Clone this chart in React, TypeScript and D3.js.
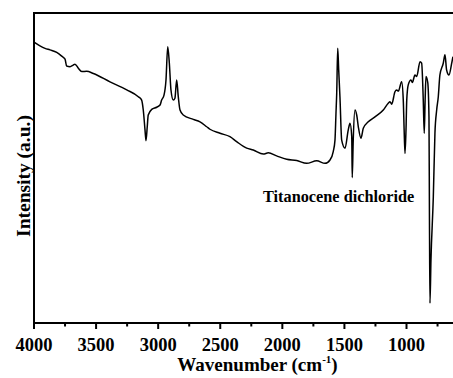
import React from "react";
import * as d3 from "d3";

// FTIR spectrum of titanocene dichloride: wavenumber (cm^-1) vs. intensity (a.u.)
const wavenumbers: number[] = [
  4000, 3952, 3911, 3871, 3817, 3777, 3750, 3737, 3710, 3684, 3670, 3643, 3616, 3576, 3522,
  3388, 3253, 3160, 3133, 3120, 3106, 3098, 3088, 3080, 3052, 3012, 2985, 2972, 2953, 2937,
  2923, 2910, 2897, 2878, 2865, 2851, 2838, 2824, 2798, 2717, 2663, 2609, 2583, 2502, 2422,
  2368, 2287, 2234, 2153, 2113, 2046, 1965, 1884, 1804, 1723, 1656, 1616, 1590, 1576, 1568,
  1562, 1554, 1546, 1536, 1522, 1495, 1469, 1455, 1441, 1437, 1429, 1415, 1401, 1388, 1367,
  1348, 1308, 1254, 1187, 1147, 1133, 1119, 1093, 1079, 1066, 1039, 1026, 1019, 1012, 1004,
  998, 986, 964, 953, 932, 918, 891, 878, 865, 857, 850, 843, 829, 819, 815, 811, 803, 784,
  771, 757, 744, 731, 704, 690, 677, 658, 636, 626,
];

const intensities: number[] = [
  90.6, 89.4, 88.6, 88.1, 87.3, 86.1, 85.1, 82.9, 82.7, 83.2, 83.5, 82.2, 81.1, 81.2, 80.5,
  77.8, 75.2, 73.0, 71.9, 68.7, 62.3, 58.8, 63.3, 67.1, 68.9, 69.6, 70.3, 71.9, 73.5, 78.4,
  89.1, 83.8, 75.2, 71.9, 72.5, 78.4, 73.0, 68.7, 67.1, 65.7, 64.9, 63.3, 62.5, 61.2, 60.1,
  58.5, 56.4, 55.8, 54.5, 54.9, 53.9, 52.8, 52.4, 51.5, 52.3, 51.5, 52.6, 55.3, 59.0, 67.6,
  74.1, 88.6, 81.6, 73.0, 59.0, 56.4, 62.3, 64.4, 60.1, 46.9, 59.0, 68.7, 67.1, 63.3, 59.6,
  62.8, 64.9, 66.5, 68.7, 70.9, 71.4, 70.6, 74.6, 75.2, 74.8, 77.8, 71.9, 62.3, 54.7, 62.3,
  71.9, 76.8, 78.4, 77.6, 80.0, 79.5, 84.3, 83.8, 71.9, 61.2, 71.9, 79.5, 77.6, 66.5, 33.2,
  6.4, 20.3, 40.7, 61.2, 68.7, 73.0, 80.0, 83.8, 86.5, 81.6, 80.0, 83.8, 85.9,
];

const majorTicks: number[] = [4000, 3500, 3000, 2500, 2000, 1500, 1000, 500];
const minorTicks: number[] = [3750, 3250, 2750, 2250, 1750, 1250, 750];
const tickLabels: number[] = [4000, 3500, 3000, 2500, 2000, 1500, 1000];

const sampleLabel = "Titanocene dichloride";

const W = 453;
const H = 378;
const margin = { left: 34, top: 13, bottom: 323, right: 481 };
const serif = "'Liberation Serif', 'Times New Roman', serif";

export default function App() {
  const x = d3.scaleLinear().domain([4000, 400]).range([margin.left, margin.right]);
  const y = d3.scaleLinear().domain([0, 100]).range([margin.bottom, margin.top]);

  const points: [number, number][] = wavenumbers.map((w, i) => [w, intensities[i]]);
  const line = d3
    .line<[number, number]>()
    .x((d) => x(d[0]))
    .y((d) => y(d[1]))
    .curve(d3.curveMonotoneX);

  const plotW = margin.right - margin.left;
  const plotH = margin.bottom - margin.top;

  return (
    <svg
      width={W}
      height={H}
      viewBox={`0 0 ${W} ${H}`}
      style={{ position: "absolute", left: 0, top: 0, background: "#fff" }}
    >
      <defs>
        <clipPath id="plot-area">
          <rect x={margin.left} y={margin.top} width={plotW} height={plotH} />
        </clipPath>
      </defs>

      <path
        d={line(points) ?? ""}
        fill="none"
        stroke="#000"
        strokeWidth={1.5}
        strokeLinejoin="round"
        clipPath="url(#plot-area)"
      />

      {/* frame */}
      <rect
        x={margin.left}
        y={margin.top}
        width={plotW}
        height={plotH}
        fill="none"
        stroke="#000"
        strokeWidth={2}
      />

      {/* bottom axis ticks */}
      {majorTicks.map((t) => (
        <line key={`M${t}`} x1={x(t)} x2={x(t)} y1={margin.bottom} y2={margin.bottom + 6} stroke="#000" strokeWidth={2} />
      ))}
      {minorTicks.map((t) => (
        <line key={`m${t}`} x1={x(t)} x2={x(t)} y1={margin.bottom} y2={margin.bottom + 3.5} stroke="#000" strokeWidth={2} />
      ))}
      {tickLabels.map((t) => (
        <text
          key={`L${t}`}
          x={x(t)}
          y={350.5}
          textAnchor="middle"
          fontFamily={serif}
          fontWeight="bold"
          fontSize={18.5}
          fill="#000"
        >
          {t}
        </text>
      ))}

      {/* axis titles */}
      <text
        x={(margin.left + margin.right) / 2}
        y={370.5}
        textAnchor="middle"
        fontFamily={serif}
        fontWeight="bold"
        fontSize={19}
        fill="#000"
      >
        Wavenumber (cm
        <tspan fontSize={11} dy={-8}>-1</tspan>
        <tspan dy={8}>)</tspan>
      </text>
      <text
        transform={`translate(29.5, 176) rotate(-90)`}
        textAnchor="middle"
        fontFamily={serif}
        fontWeight="bold"
        fontSize={19.5}
        fill="#000"
      >
        Intensity (a.u.)
      </text>

      <text x={263} y={201.5} fontFamily={serif} fontWeight="bold" fontSize={16.3} fill="#000">
        {sampleLabel}
      </text>
    </svg>
  );
}
